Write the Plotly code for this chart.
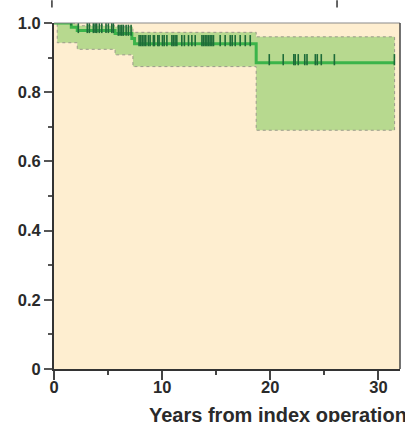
import numpy as np
import plotly.graph_objects as go

# ---- data ----
km_times = [0, 1.6, 2.15, 5.65, 7.2, 7.45, 18.7]
km_surv = [1.0, 0.988, 0.978, 0.970, 0.955, 0.940, 0.885]
km_end = 31.5

ci_times = [0, 0.3, 2.15, 5.65, 7.3, 18.7]
ci_upper = [1.0, 0.998, 0.992, 0.989, 0.973, 0.960]
ci_lower = [1.0, 0.943, 0.924, 0.908, 0.874, 0.690]

censor_times = [1.57, 2.25, 3.08, 3.27, 3.64, 3.80, 3.95, 4.19, 4.42, 4.81, 5.03, 5.34, 5.49,
                5.95, 6.11, 6.27, 6.42, 6.67, 6.88, 7.13,
                7.87, 8.03, 8.18, 8.33, 8.49, 8.73, 8.89, 9.19, 9.29, 9.60, 9.72, 10.03, 10.19,
                10.44, 10.90, 11.04, 11.20, 11.36, 11.82, 12.06, 12.44, 12.75, 13.06, 13.68,
                13.82, 13.98, 14.14, 14.29, 14.44, 14.60, 14.75, 15.37, 15.83, 16.30, 16.48,
                16.76, 17.22, 17.69, 18.15,
                19.91, 21.20, 22.18, 22.31, 22.59, 23.19, 23.40, 24.17, 24.35, 24.72, 25.93, 31.48]

x_ticks = [0, 10, 20, 30]
y_ticks = [0, 0.2, 0.4, 0.6, 0.8, 1.0]
y_ticktext = ["0", "0.2", "0.4", "0.6", "0.8", "1.0"]
x_title = "Years from index operation"

# ---- helpers ----
def step_xy(times, vals, end):
    xs, ys = [], []
    t = list(times) + [end]
    for i, v in enumerate(vals):
        xs += [t[i], t[i + 1]]
        ys += [v, v]
    return xs, ys

ux, uy = step_xy(ci_times, ci_upper, km_end)
lx, ly = step_xy(ci_times, ci_lower, km_end)
band_x = ux + lx[::-1] + [ux[0]]
band_y = uy + ly[::-1] + [uy[0]]

kx, ky = step_xy(km_times, km_surv, km_end)

idx = np.searchsorted(np.array(km_times), np.array(censor_times), side="right") - 1
censor_y = np.array(km_surv)[idx] + 0.009

fig = go.Figure()
fig.add_trace(go.Scatter(x=band_x, y=band_y, mode="lines", fill="toself",
                         fillcolor="#B7D98F",
                         line=dict(color="#9a9a8a", width=1, dash="dot"),
                         hoverinfo="skip", showlegend=False))
fig.add_trace(go.Scatter(x=kx, y=ky, mode="lines",
                         line=dict(color="#3BB44A", width=3),
                         showlegend=False))
fig.add_trace(go.Scatter(x=censor_times, y=censor_y, mode="markers",
                         marker=dict(symbol="line-ns", size=8,
                                     line=dict(color="#1D6B38", width=1.6)),
                         showlegend=False))

font_family = "Liberation Sans, Arial, sans-serif"
txt_color = "#2a2a2a"

fig.update_layout(
    width=405, height=422,
    margin=dict(l=54, r=5, t=23, b=53),
    paper_bgcolor="white",
    plot_bgcolor="#FEEED0",
    font=dict(family=font_family, size=16, color=txt_color),
    xaxis=dict(range=[0, 32], tickvals=x_ticks, ticks="outside", ticklen=9,
               tickwidth=1.5, tickcolor="#444", showline=True, linecolor="#333",
               linewidth=1.8, showgrid=False, zeroline=False,
               ticklabelstandoff=-7,
               tickfont=dict(size=16.5, color=txt_color, weight="bold"),
               minor=dict(tickvals=[5, 15, 25], ticks="outside", ticklen=4,
                          tickwidth=1.5, tickcolor="#444")),
    yaxis=dict(range=[0, 1.0], tickvals=y_ticks, ticktext=y_ticktext, ticks="outside",
               ticklen=8, tickwidth=1.5, tickcolor="#555", showline=True,
               linecolor="#333", linewidth=1.8, showgrid=False, zeroline=False,
               tickfont=dict(size=16.5, color=txt_color, weight="bold"),
               minor=dict(tickvals=[0.1, 0.3, 0.5, 0.7, 0.9], ticks="outside",
                          ticklen=4, tickwidth=1.5, tickcolor="#555")),
    annotations=[dict(text=x_title, xref="paper", yref="paper", x=0.268, y=-0.132,
                      xanchor="left", yanchor="middle", showarrow=False,
                      font=dict(size=20, family=font_family, color=txt_color,
                                weight="bold"))],
    shapes=[
        dict(type="line", xref="paper", yref="paper", x0=0, x1=1, y0=1, y1=1,
             line=dict(color="#8a8a8a", width=1.2)),
        dict(type="line", xref="paper", yref="paper", x0=1, x1=1, y0=0, y1=1,
             line=dict(color="#444", width=1.5)),
        dict(type="line", xref="paper", yref="paper", x0=-0.006, x1=-0.006, y0=1.045, y1=1.066,
             line=dict(color="#333", width=1.5)),
        dict(type="line", xref="paper", yref="paper", x0=0.818, x1=0.818, y0=1.045, y1=1.066,
             line=dict(color="#333", width=1.5)),
    ],
)

fig.write_html("out.html",
               config={"displayModeBar": False},
               post_script="document.body.style.margin='0';"
                           "document.body.style.overflow='hidden';")
